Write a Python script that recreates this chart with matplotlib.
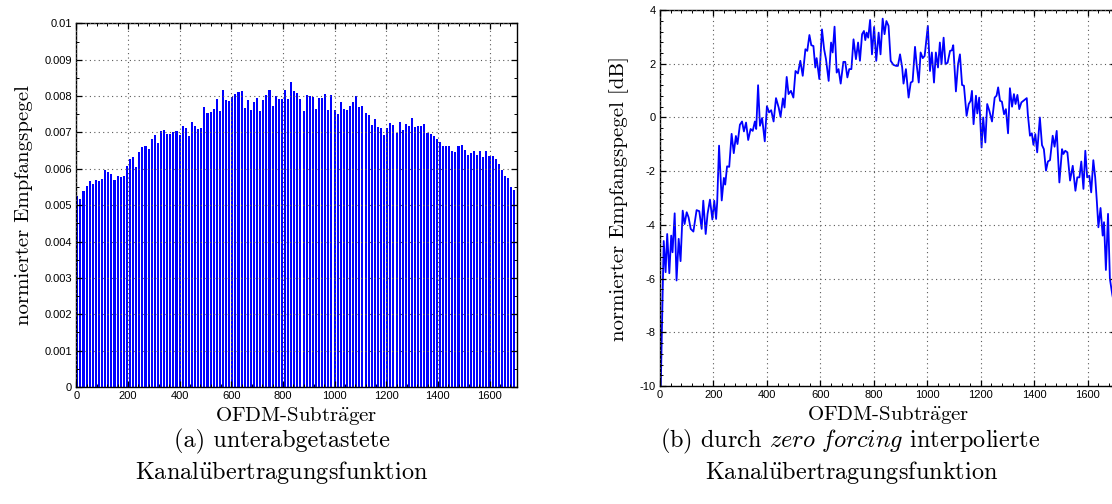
import numpy as np
import matplotlib
matplotlib.use('Agg')
from matplotlib import pyplot as plt
from matplotlib.ticker import MultipleLocator, FuncFormatter

# unterabgetastete Kanalübertragungsfunktion (Pilot alle 12 Subträger)
pilot_step = 12
pilot_pegel = [
    0.00525, 0.00518, 0.00540, 0.00552, 0.00566, 0.00558, 0.00568, 0.00566, 0.00572, 0.00597,
    0.00592, 0.00585, 0.00569, 0.00580, 0.00578, 0.00580, 0.00608, 0.00626, 0.00632, 0.00605,
    0.00646, 0.00660, 0.00662, 0.00654, 0.00682, 0.00692, 0.00672, 0.00704, 0.00707, 0.00695,
    0.00695, 0.00701, 0.00703, 0.00693, 0.00719, 0.00712, 0.00689, 0.00728, 0.00717, 0.00709,
    0.00712, 0.00769, 0.00753, 0.00756, 0.00764, 0.00792, 0.00758, 0.00818, 0.00789, 0.00786,
    0.00798, 0.00805, 0.00810, 0.00814, 0.00767, 0.00788, 0.00761, 0.00783, 0.00796, 0.00759,
    0.00789, 0.00803, 0.00818, 0.00772, 0.00801, 0.00793, 0.00793, 0.00818, 0.00793, 0.00838,
    0.00815, 0.00808, 0.00792, 0.00759, 0.00804, 0.00800, 0.00797, 0.00764, 0.00795, 0.00794,
    0.00806, 0.00762, 0.00802, 0.00761, 0.00752, 0.00783, 0.00765, 0.00763, 0.00772, 0.00783,
    0.00800, 0.00769, 0.00772, 0.00754, 0.00747, 0.00720, 0.00737, 0.00716, 0.00712, 0.00693,
    0.00711, 0.00725, 0.00721, 0.00698, 0.00728, 0.00708, 0.00724, 0.00717, 0.00739, 0.00716,
    0.00719, 0.00719, 0.00722, 0.00698, 0.00697, 0.00689, 0.00681, 0.00674, 0.00662, 0.00662,
    0.00662, 0.00649, 0.00645, 0.00662, 0.00666, 0.00651, 0.00638, 0.00644, 0.00649, 0.00638,
    0.00650, 0.00632, 0.00649, 0.00635, 0.00635, 0.00628, 0.00612, 0.00596, 0.00580, 0.00576,
    0.00550, 0.00541]

# zero forcing interpolierte Kanalübertragungsfunktion [dB]
zf_subtraeger = [
    3, 14, 21, 27, 35, 42, 47, 55, 62, 70, 77, 85, 92, 100, 107, 115, 125, 137, 147, 156,
    162, 171, 178, 187, 196, 203, 210, 214, 221, 231, 239, 244, 251, 259, 268, 276, 284, 290,
    299, 307, 314, 322, 330, 339, 347, 355, 360, 367, 374, 382, 392, 400, 408, 416, 425, 434,
    444, 451, 460, 466, 474, 481, 490, 499, 507, 516, 525, 534, 544, 551, 559, 566, 574, 581,
    586, 596, 606, 614, 621, 631, 640, 646, 653, 661, 668, 676, 686, 693, 701, 708, 716, 724,
    733, 741, 748, 756, 763, 768, 773, 779, 786, 793, 801, 809, 818, 825, 833, 840, 847, 855,
    863, 873, 883, 890, 898, 906, 911, 920, 930, 938, 945, 954, 960, 968, 975, 983, 990, 1002,
    1010, 1017, 1025, 1032, 1040, 1047, 1053, 1061, 1068, 1076, 1085, 1092, 1097, 1107, 1115,
    1122, 1130, 1137, 1147, 1155, 1162, 1167, 1173, 1182, 1187, 1194, 1203, 1209, 1217, 1224,
    1232, 1242, 1252, 1259, 1265, 1272, 1279, 1287, 1294, 1302, 1309, 1317, 1324, 1330, 1337,
    1344, 1352, 1362, 1372, 1376, 1384, 1391, 1397, 1404, 1411, 1421, 1429, 1436, 1444, 1451,
    1459, 1469, 1476, 1484, 1494, 1504, 1509, 1516, 1524, 1534, 1544, 1554, 1561, 1569, 1576,
    1584, 1591, 1598, 1606, 1613, 1621, 1628, 1634, 1640, 1648, 1656, 1661, 1668, 1676, 1683,
    1692, 1704]
zf_pegel_db = [
    -10.0, -4.60, -5.76, -4.34, -5.80, -4.40, -5.02, -3.57, -6.07, -4.52, -5.35, -3.47, -3.97,
    -3.53, -3.72, -4.15, -4.25, -3.45, -3.49, -4.15, -3.10, -4.34, -3.59, -3.06, -3.80, -3.10,
    -3.78, -3.16, -1.05, -3.09, -2.25, -2.50, -1.82, -1.84, -0.61, -1.33, -0.69, -0.99, -0.27,
    -0.15, -0.52, -0.19, -0.84, -0.43, -0.50, -0.15, -0.43, 1.20, -0.31, -0.02, -0.89, 0.42,
    0.19, 0.27, -0.15, 0.72, 0.37, 0.02, 0.71, 0.37, 1.51, 0.87, 0.99, 0.74, 1.73, 1.64, 2.11,
    1.55, 2.54, 2.48, 3.07, 2.69, 2.66, 1.86, 2.21, 1.43, 3.28, 2.54, 2.17, 1.36, 2.79, 2.42,
    3.38, 1.67, 1.80, 1.26, 2.07, 2.07, 1.49, 1.80, 1.80, 2.91, 2.17, 2.79, 2.11, 3.10, 3.22,
    2.88, 3.16, 2.97, 3.63, 2.35, 3.37, 2.11, 3.16, 2.35, 3.68, 3.10, 3.59, 3.41, 2.11, 1.96,
    1.92, 1.92, 2.35, 1.86, 1.26, 1.80, 0.74, 1.30, 1.34, 2.63, 1.98, 1.30, 2.42, 2.21, 2.29,
    3.41, 1.73, 2.42, 1.30, 2.42, 1.86, 2.79, 1.98, 2.97, 1.98, 2.04, 2.48, 2.50, 2.69, 0.97,
    1.98, 2.35, 1.21, 1.18, 0.06, 0.50, 0.62, 0.99, -0.25, 0.81, 0.15, 0.74, -1.12, 0.00,
    -0.93, 0.50, 0.25, -0.15, 0.74, 0.81, 1.12, 0.62, 0.59, 0.12, 0.31, -0.59, 1.09, 0.40,
    0.87, 0.50, 0.84, 0.31, 0.56, 0.64, 0.72, 0.12, -0.68, -0.59, -1.02, -0.62, -1.30, 0.00,
    -1.03, -1.18, -1.98, -1.64, -1.59, -0.68, -1.09, -0.50, -2.42, -1.18, -1.36, -1.24, -1.30,
    -2.35, -1.80, -2.73, -2.23, -2.23, -1.64, -2.66, -1.24, -2.23, -2.17, -2.79, -1.59, -2.23,
    -3.10, -4.09, -3.37, -4.40, -3.90, -5.68, -3.59, -6.01, -6.60, -7.20]

plt.rcParams['mathtext.fontset'] = 'cm'
serif = ['cmr10', 'DejaVu Serif']
tick_font = 'Liberation Sans'


def style_axes(ax, ymajor, yminor):
    ax.xaxis.set_major_locator(MultipleLocator(200))
    ax.xaxis.set_minor_locator(MultipleLocator(40))
    ax.yaxis.set_major_locator(MultipleLocator(ymajor))
    ax.yaxis.set_minor_locator(MultipleLocator(yminor))
    ax.tick_params(which='both', direction='in', top=True, right=True,
                   labelsize=8, pad=3)
    ax.tick_params(which='major', length=4, width=0.9)
    ax.tick_params(which='minor', length=2, width=0.7)
    ax.grid(True, which='major', linestyle=(0, (1, 3)), color='0.35', linewidth=0.8)
    ax.set_axisbelow(False)
    for s in ax.spines.values():
        s.set_linewidth(1.0)


fig = plt.figure(figsize=(11.12, 5.04), dpi=100)

# (a)
ax1 = fig.add_axes([0.0686, 0.2321, 0.3960, 0.7216])
x_pilot = np.arange(len(pilot_pegel)) * pilot_step
ax1.bar(x_pilot, pilot_pegel, width=8, color='#0000ff', linewidth=0, align='edge')
ax1.set_xlim(0, 1705)
ax1.set_ylim(0, 0.01)
style_axes(ax1, 0.001, 0.0005)
ax1.yaxis.set_major_formatter(FuncFormatter(lambda v, p: '%g' % round(v, 4)))
ax1.xaxis.set_major_formatter(FuncFormatter(lambda v, p: '%d' % v))
for lab in ax1.get_xticklabels() + ax1.get_yticklabels():
    lab.set_family(tick_font)
ax1.set_xlabel(r'OFDM-Subtr$\ddot{\mathrm{a}}$ger', family=serif, fontsize=15, labelpad=3)
ax1.set_ylabel('normierter Empfangspegel', family=serif, fontsize=15, labelpad=8)

# (b)
ax2 = fig.add_axes([0.5935, 0.2341, 0.4099, 0.7460])
ax2.plot(zf_subtraeger, zf_pegel_db, color='#0000ff', linewidth=1.3)
ax2.set_xlim(0, 1705)
ax2.set_ylim(-10, 4)
style_axes(ax2, 2, 0.4)
ax2.xaxis.set_major_formatter(FuncFormatter(lambda v, p: '%d' % v))
ax2.yaxis.set_major_formatter(FuncFormatter(lambda v, p: '%d' % v))
for lab in ax2.get_xticklabels() + ax2.get_yticklabels():
    lab.set_family(tick_font)
ax2.set_xlabel(r'OFDM-Subtr$\ddot{\mathrm{a}}$ger', family=serif, fontsize=15, labelpad=3)
ax2.set_ylabel('normierter Empfangspegel [dB]', family=serif, fontsize=15, labelpad=8)

# Unterschriften
cap = 17.5
fig.text(282 / 1112, 1 - 441 / 504, '(a) unterabgetastete', family=serif,
         fontsize=cap, ha='center', va='center')
fig.text(282 / 1112, 1 - 473 / 504, r'Kanal$\ddot{\mathrm{u}}$bertragungsfunktion',
         family=serif, fontsize=cap, ha='center', va='center')
fig.text(850 / 1112, 1 - 441 / 504, r'(b) durch $\mathit{zero\ forcing}$ interpolierte',
         family=serif, fontsize=cap, ha='center', va='center')
fig.text(852 / 1112, 1 - 473 / 504, r'Kanal$\ddot{\mathrm{u}}$bertragungsfunktion',
         family=serif, fontsize=cap, ha='center', va='center')

plt.savefig('out.png', dpi=100)
